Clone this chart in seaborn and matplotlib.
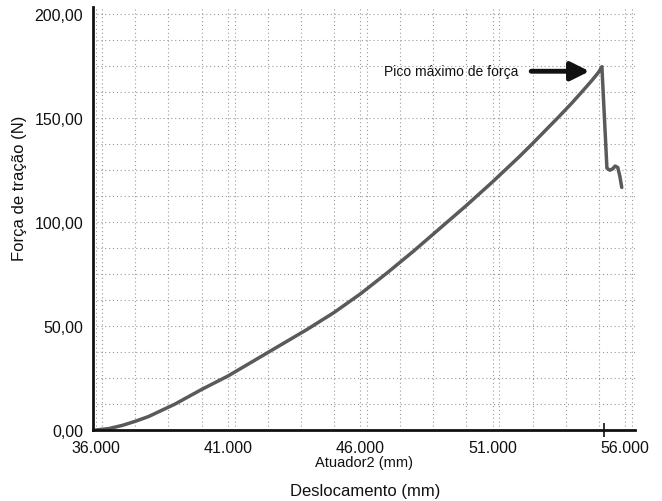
import matplotlib
matplotlib.use("Agg")
import matplotlib.pyplot as plt
import seaborn as sns
import pandas as pd
from matplotlib.ticker import FuncFormatter, MultipleLocator

# Data
deslocamento = [36.0, 36.5, 37.0, 37.5, 38.0, 39.0, 40.0, 41.0, 42.0, 43.0, 44.0, 45.0, 46.0,
                47.0, 48.0, 49.0, 50.0, 51.0, 52.0, 52.5, 53.0, 53.5, 54.0, 54.4,
                54.75, 55.0, 55.12,
                55.31, 55.42, 55.52, 55.62, 55.72, 55.8, 55.87]
forca = [0.0, 0.7, 2.2, 4.2, 6.5, 12.5, 19.5, 26.0, 33.5, 41.0, 48.5, 56.5, 65.5,
         75.5, 86.0, 97.0, 108.0, 119.5, 131.5, 137.8, 144.3, 150.8, 157.5, 163.2,
         168.3, 172.2, 174.8,
         126.0, 125.0, 125.6, 127.0, 126.3, 122.0, 116.7]
x_ticks = [36, 41, 46, 51, 56]
y_ticks = [0, 50, 100, 150, 200]
peak_marker_x = [55.2]

df = pd.DataFrame({"Deslocamento": deslocamento, "Forca": forca})

sns.set_style("white")
plt.rcParams["font.family"] = ["Liberation Sans", "DejaVu Sans"]

fig = plt.figure(figsize=(6.62, 5.02), dpi=100)
ax = fig.add_axes([0.1405, 0.1414, 0.8187, 0.8426])

sns.lineplot(data=df, x="Deslocamento", y="Forca", ax=ax, color="#5a5a5a",
             linewidth=2.5, sort=False, estimator=None)
ax.lines[0].set_solid_joinstyle("round")

ax.set_xlim(35.9, 56.37)
ax.set_ylim(0, 203.5)
ax.set_xticks(x_ticks)
ax.set_yticks(y_ticks)
ax.xaxis.set_minor_locator(MultipleLocator(1.25))
ax.yaxis.set_minor_locator(MultipleLocator(12.5))
ax.xaxis.set_major_formatter(FuncFormatter(lambda v, p: f"{v:.3f}"))
ax.yaxis.set_major_formatter(FuncFormatter(lambda v, p: f"{v:.2f}".replace(".", ",")))

ax.grid(True, which="both", color="#999999", linestyle=(0, (1, 2.5)), linewidth=0.8)

for s in ["top", "right"]:
    ax.spines[s].set_visible(False)
for s in ["left", "bottom"]:
    ax.spines[s].set_linewidth(2.0)
    ax.spines[s].set_color("#111111")

ax.tick_params(axis="both", which="major", labelsize=11.5, length=4, width=1.2,
               color="#111111", labelcolor="#111111", direction="out", pad=3)
ax.tick_params(axis="both", which="minor", length=0)

# small marker tick at peak position on x axis
ax2 = ax.secondary_xaxis("bottom")
ax2.set_xticks(peak_marker_x)
ax2.set_xticklabels([""])
ax2.tick_params(length=10, width=1.2, direction="inout", color="#111111")
ax2.spines["bottom"].set_visible(False)

ax.set_xlabel("Atuador2 (mm)", fontsize=10.5, labelpad=0, color="#111111")
ax.set_ylabel("Força de tração (N)", fontsize=12, color="#111111")
ax.yaxis.set_label_coords(-0.122, 0.574)
fig.text(0.551, 0.02, "Deslocamento (mm)", ha="center", va="center",
         fontsize=12, color="#111111")

ax.annotate("", xy=(54.65, 172.6), xytext=(52.45, 172.6),
            arrowprops=dict(arrowstyle="-|>", lw=3.5, color="#111111",
                            mutation_scale=28, shrinkA=0, shrinkB=0))
ax.text(51.95, 172.6, "Pico máximo de força", ha="right", va="center",
        fontsize=10, color="#111111")

fig.savefig("out.png", dpi=100)
